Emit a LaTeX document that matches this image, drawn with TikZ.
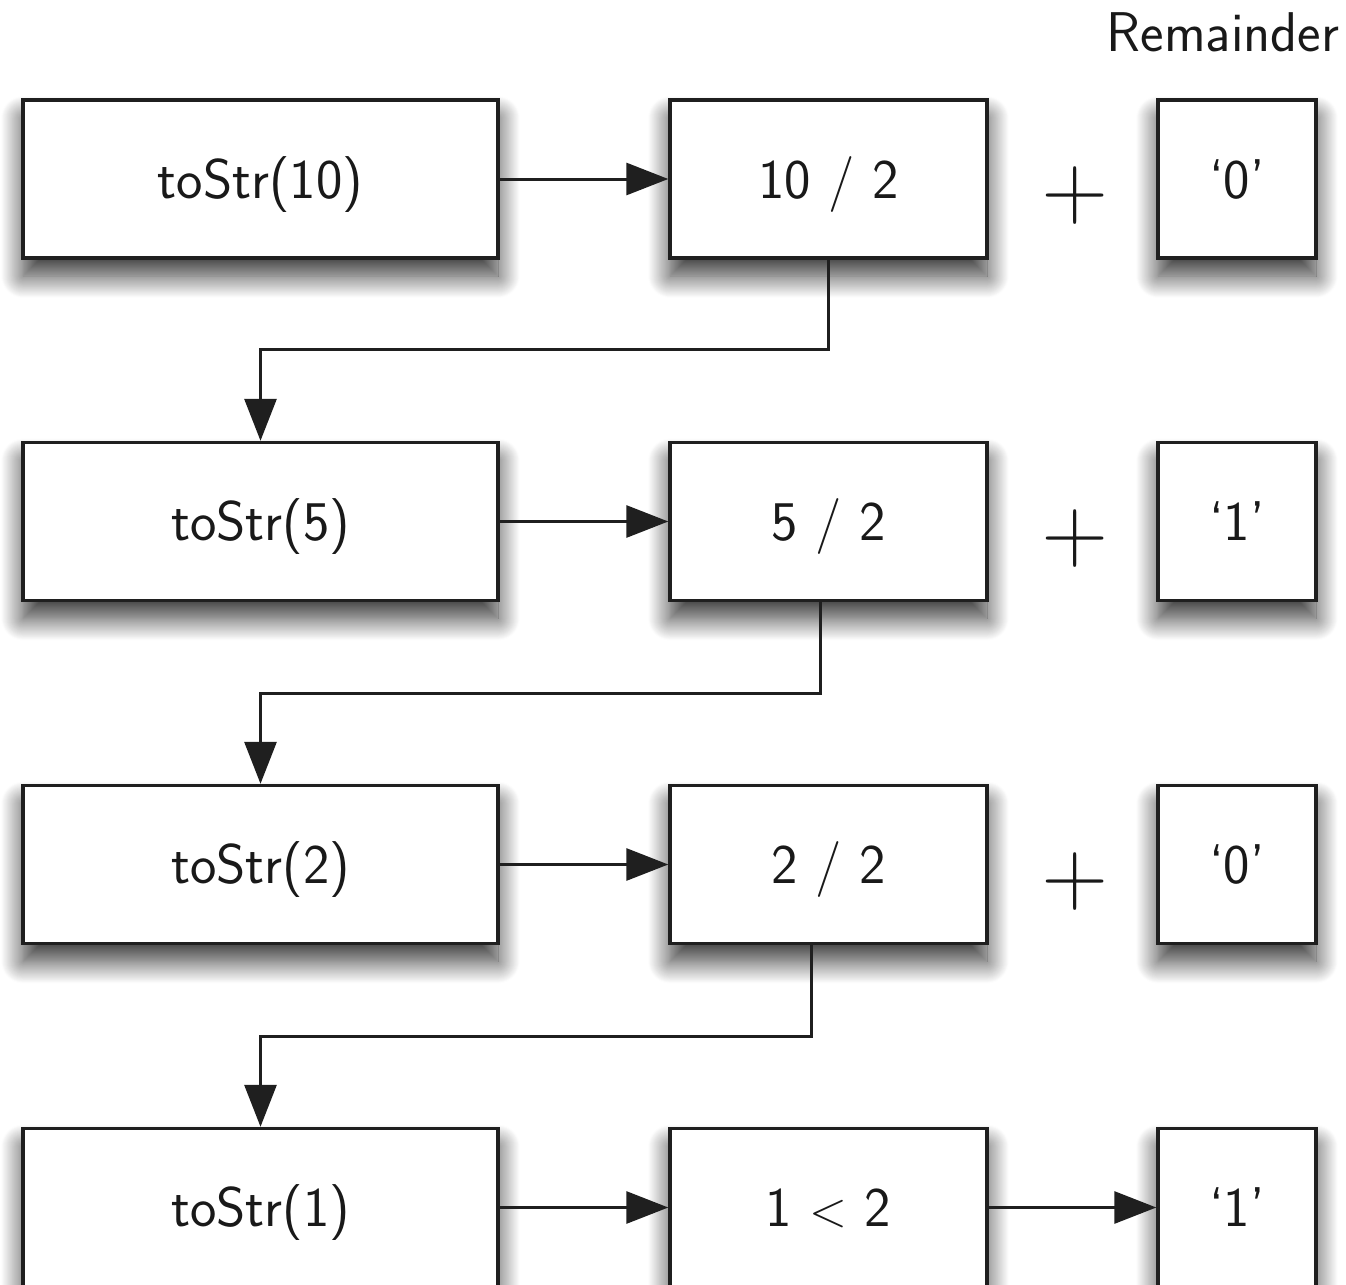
\documentclass[tikz,border=0pt]{standalone}
\usepackage{fontspec}
\usetikzlibrary{arrows.meta,shadows.blur}
\begin{document}
\begin{tikzpicture}[x=0.5pt,y=-0.5pt,
  every node/.style={font=\sffamily\fontsize{28}{33}\selectfont, text=black!90},
  box/.style={draw=black!88, line width=1.7pt, fill=white,
    minimum height=79pt, inner sep=0pt, text height=23.5pt, text depth=4.5pt,
    blur shadow={shadow xshift=0pt, shadow yshift=-9pt,
      shadow blur radius=11pt, shadow blur steps=24, shadow opacity=80}},
  callbox/.style={box, minimum width=237.5pt},
  opbox/.style={box, minimum width=158.5pt},
  digitbox/.style={box, minimum width=79pt},
  plus/.style={font=\sffamily\fontsize{46}{46}\selectfont},
  conn/.style={draw=black!88, line width=1.5pt, -{Triangle[length=21pt,width=16pt]}}]

\useasboundingbox (0,0) rectangle (1346,1285);
\clip (0,0) rectangle (1346,1285);

\node[anchor=base] (rem) at (1223,52) {Remainder};

% call boxes, operation boxes and remainder digits, one row per call
\node[callbox] (L1) at (260.5,179) {toStr(10)};
\node[opbox]   (M1) at (828.5,179) {10 / 2};
\node[digitbox] (R1) at (1237,179) {‘0’};
\node[plus] (P1) at (1075,196) {+};

\node[callbox] (L2) at (260.5,521.5) {toStr(5)};
\node[opbox]   (M2) at (828.5,521.5) {5 / 2};
\node[digitbox] (R2) at (1237,521.5) {‘1’};
\node[plus] (P2) at (1075,539) {+};

\node[callbox] (L3) at (260.5,864.5) {toStr(2)};
\node[opbox]   (M3) at (828.5,864.5) {2 / 2};
\node[digitbox] (R3) at (1237,864.5) {‘0’};
\node[plus] (P3) at (1075,882) {+};

\node[callbox] (L4) at (260.5,1207.5) {toStr(1)};
\node[opbox]   (M4) at (828.5,1207.5) {1 $<$ 2};
\node[digitbox] (R4) at (1237,1207.5) {‘1’};

% horizontal steps
\draw[conn] (L1) -- (M1);
\draw[conn] (L2) -- (M2);
\draw[conn] (L3) -- (M3);
\draw[conn] (L4) -- (M4);
\draw[conn] (M4) -- (R4);

% recursive calls
\draw[conn] (M1.south) -- ++(0,90) -| (L2.north);
\draw[conn] ([xshift=-4.25pt]M2.south) -- ++(0,91) -| (L3.north);
\draw[conn] ([xshift=-8.75pt]M3.south) -- ++(0,91) -| (L4.north);
\end{tikzpicture}
\end{document}
